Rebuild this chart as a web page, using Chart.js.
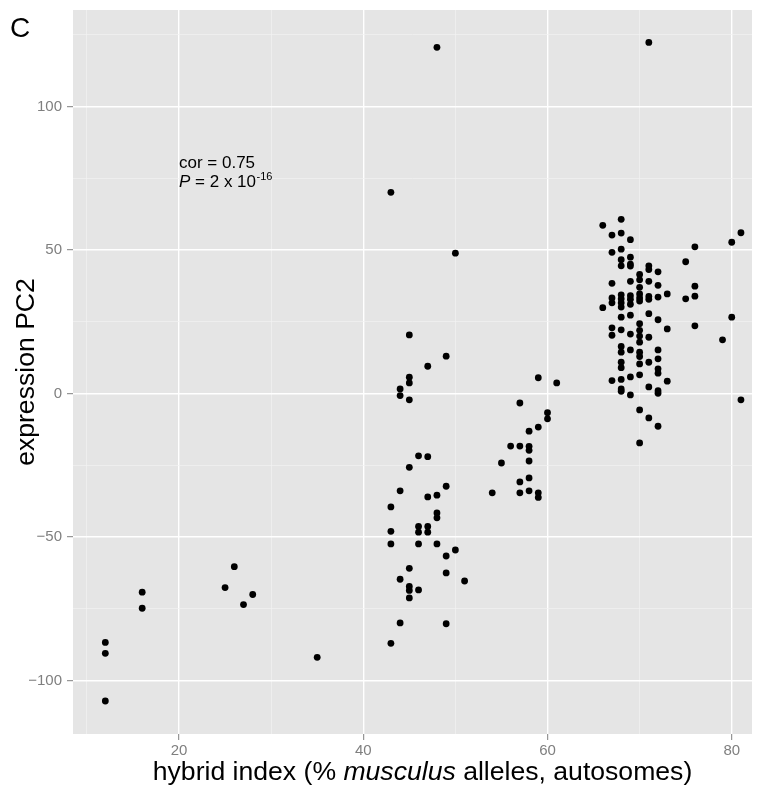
<!DOCTYPE html>
<html>
<head>
<meta charset="utf-8">
<script src="https://cdn.jsdelivr.net/npm/chart.js@4"></script>
<style>
  html, body { margin: 0; padding: 0; background: #fff; }
  #wrap { width: 766px; height: 792px; }
</style>
</head>
<body>
<div id="wrap"><canvas id="c" width="766" height="792"></canvas></div>
<script>
// hybrid index (x) and expression PC2 (y), one entry per mouse
const hybridIndex = [
  12, 12, 12,
  16, 16,
  25, 26, 27, 28,
  35,
  43, 43, 43, 43, 43,
  44, 44, 44, 44, 44,
  45, 45, 45, 45, 45, 45, 45, 45, 45,
  46, 46, 46, 46, 46,
  47, 47, 47, 47, 47,
  48, 48, 48, 48, 48,
  49, 49, 49, 49, 49,
  50, 50,
  51,
  54, 55, 56,
  57, 57, 57, 57,
  58, 58, 58, 58, 58, 58,
  59, 59, 59, 59,
  60, 60,
  61,
  66, 66,
  67, 67, 67, 67, 67, 67, 67, 67,
  68, 68, 68, 68, 68, 68, 68, 68, 68, 68, 68, 68, 68, 68, 68, 68, 68, 68,
  69, 69, 69, 69, 69, 69, 69, 69, 69, 69, 69, 69, 69,
  70, 70, 70, 70, 70, 70, 70, 70, 70, 70, 70, 70, 70, 70, 70, 70,
  71, 71, 71, 71, 71, 71, 71, 71, 71, 71, 71,
  72, 72, 72, 72, 72, 72, 72, 72, 72, 72, 72,
  73, 73, 73,
  75, 75,
  76, 76, 76, 76,
  79,
  80, 80,
  81, 81
];
const exprPC2 = [
  -86.7, -90.5, -107.1,
  -69.2, -74.8,
  -67.6, -60.3, -73.5, -70,
  -91.9,
  70.1, -39.5, -48, -52.4, -87,
  1.6, -0.7, -33.9, -64.7, -79.9,
  20.4, 5.7, 3.7, -2.2, -25.7, -60.9, -67.2, -68.6, -71.2,
  -21.7, -46.3, -48.3, -52.4, -68.4,
  9.5, -22, -36, -46.3, -48.3,
  120.6, -35.4, -41.6, -43.3, -52.4,
  13, -32.3, -56.6, -62.5, -80.2,
  48.9, -54.5,
  -65.3,
  -34.6, -24.2, -18.3,
  -3.3, -18.3, -30.8, -34.6,
  -13.1, -18.4, -19.8, -23.5, -29.4, -33.9,
  5.5, -11.7, -34.6, -36.2,
  -6.7, -8.8,
  3.7,
  58.6, 29.9,
  55.2, 49.2, 38.4, 33.3, 31.6, 22.9, 20.3, 4.5,
  60.7, 55.9, 50.3, 46.6, 44.5, 34.4, 33, 31.6, 30.1, 26.6, 22.2, 16.4, 14.4, 10.9, 9, 4.9, 1.6, 0.8,
  53.6, 47.5, 45.1, 44.4, 39.1, 34.1, 32.8, 31.1, 27.3, 20.7, 15.2, 5.8, -0.5,
  41.5, 39.6, 37, 34.7, 33.3, 32.2, 24.3, 22, 20, 17.9, 14.4, 12.9, 10.3, 6.5, -5.7, -17.2,
  122.3, 44.5, 43.2, 39.1, 33.8, 32.8, 27.8, 19.6, 10.9, 2.3, -8.5,
  42.4, 37.7, 33.6, 25.7, 15.2, 12.1, 8.6, 7.1, 1, 0.1, -11.4,
  34.7, 22.5, 4.3,
  45.9, 33,
  51.1, 37.4, 33.9, 23.6,
  18.7,
  52.7, 26.6,
  56, -2.2
];

const xMajor = [20, 40, 60, 80];
const xMinor = [10, 30, 50, 70];
const yMajor = [-100, -50, 0, 50, 100];
const yMinor = [-75, -25, 25, 75, 125];

const points = hybridIndex.map((x, i) => ({ x: x, y: exprPC2[i] }));

const FONT = '"Liberation Sans", Arial, Helvetica, sans-serif';
const tickGrey = '#7f7f7f';

// ggplot-ish grid: white major lines, faint minor lines, ticks only on majors
function gridFor(major) {
  return {
    color: c => major.includes(c.tick && c.tick.value) ? '#ffffff' : '#f2f2f2',
    lineWidth: c => major.includes(c.tick && c.tick.value) ? 1.4 : 0.7,
    tickColor: c => major.includes(c.tick && c.tick.value) ? tickGrey : 'rgba(0,0,0,0)',
    tickLength: 6,
    tickWidth: 1
  };
}

const panelBg = {
  id: 'panelBg',
  beforeDraw(chart) {
    const { ctx, chartArea: a } = chart;
    ctx.save();
    ctx.fillStyle = '#e5e5e5';
    ctx.fillRect(a.left, a.top, a.right - a.left, a.bottom - a.top);
    ctx.restore();
  }
};

const labels = {
  id: 'labels',
  afterDraw(chart) {
    const { ctx, chartArea: a } = chart;
    ctx.save();
    ctx.fillStyle = '#000';
    ctx.textBaseline = 'alphabetic';

    // panel letter
    ctx.font = '28px ' + FONT;
    ctx.textAlign = 'left';
    ctx.fillText('C', 10, 37);

    // annotation
    ctx.font = '17px ' + FONT;
    ctx.fillText('cor = 0.75', 179, 168);
    ctx.font = 'italic 17px ' + FONT;
    ctx.fillText('P', 179, 187);
    let x = 179 + ctx.measureText('P').width;
    ctx.font = '17px ' + FONT;
    ctx.fillText(' = 2 x 10', x, 187);
    x += ctx.measureText(' = 2 x 10').width;
    ctx.font = '11px ' + FONT;
    ctx.fillText('-16', x + 0.5, 180);

    // x title with italic species name
    const parts = [
      ['hybrid index (% ', ''],
      ['musculus', 'italic '],
      [' alleles, autosomes)', '']
    ];
    let total = 0;
    parts.forEach(p => { ctx.font = p[1] + '26.6px ' + FONT; total += ctx.measureText(p[0]).width; });
    x = (a.left + a.right) / 2 - total / 2 + 10;
    parts.forEach(p => {
      ctx.font = p[1] + '26.6px ' + FONT;
      ctx.fillText(p[0], x, 780);
      x += ctx.measureText(p[0]).width;
    });

    // y title
    ctx.translate(34, (a.top + a.bottom) / 2);
    ctx.rotate(-Math.PI / 2);
    ctx.textAlign = 'center';
    ctx.font = '26.6px ' + FONT;
    ctx.fillText('expression PC2', 0, 0);
    ctx.restore();
  }
};

new Chart(document.getElementById('c'), {
  type: 'scatter',
  data: {
    datasets: [{
      data: points,
      backgroundColor: '#000',
      borderWidth: 0,
      pointRadius: 3.4
    }]
  },
  options: {
    responsive: false,
    animation: false,
    devicePixelRatio: 1,
    layout: { padding: { top: 10, right: 14, left: 0, bottom: 0 } },
    plugins: { legend: { display: false }, tooltip: { enabled: false } },
    scales: {
      x: {
        type: 'linear',
        min: 8.49,
        max: 82.2,
        border: { display: false },
        grid: gridFor(xMajor),
        afterBuildTicks: s => { s.ticks = xMinor.concat(xMajor).sort((a, b) => a - b).map(v => ({ value: v })); },
        afterFit: s => { s.height = 58; s.paddingLeft = 0; s.paddingRight = 0; },
        ticks: {
          color: tickGrey,
          font: { family: FONT, size: 15 },
          padding: 2,
          maxRotation: 0,
          autoSkip: false,
          callback: v => xMajor.includes(v) ? String(v) : ''
        }
      },
      y: {
        type: 'linear',
        min: -118.6,
        max: 133.6,
        border: { display: false },
        grid: gridFor(yMajor),
        afterBuildTicks: s => { s.ticks = yMinor.concat(yMajor).sort((a, b) => a - b).map(v => ({ value: v })); },
        afterFit: s => { s.width = 73; s.paddingTop = 0; s.paddingBottom = 0; },
        ticks: {
          color: tickGrey,
          font: { family: FONT, size: 15 },
          padding: 5,
          autoSkip: false,
          callback: v => yMajor.includes(v) ? String(v).replace('-', '\u2212') : ''
        }
      }
    }
  },
  plugins: [panelBg, labels]
});
</script>
</body>
</html>
